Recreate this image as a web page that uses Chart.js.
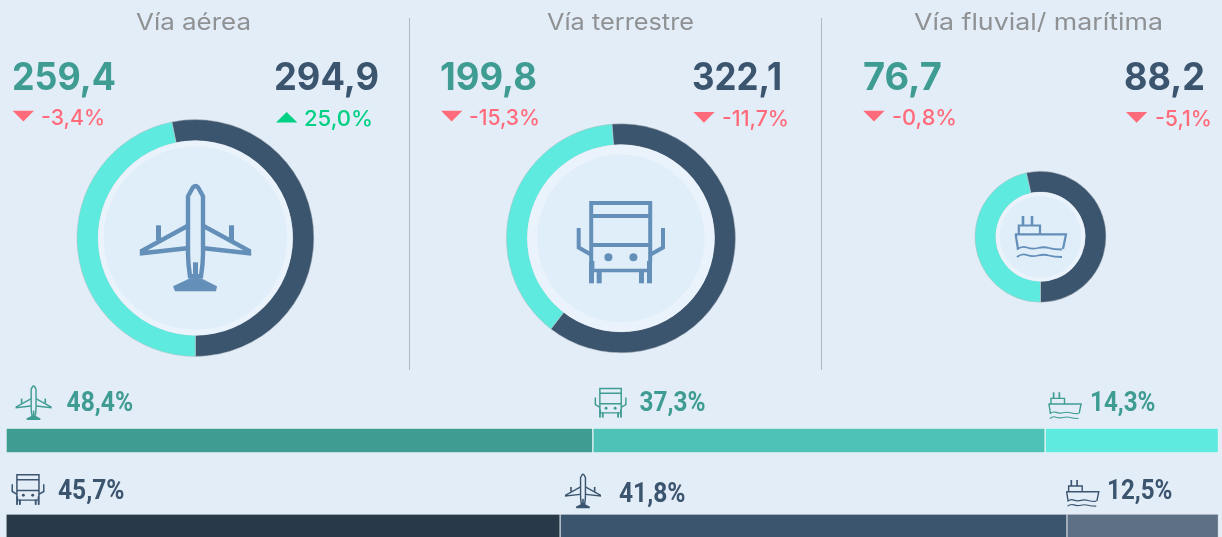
<!DOCTYPE html>
<html lang="es"><head><meta charset="utf-8">
<script src="https://cdn.jsdelivr.net/npm/chart.js@4"></script>
<style>
html,body{margin:0;padding:0;width:1222px;height:537px;overflow:hidden;background:#e3edf8}
canvas{position:absolute;display:block}
svg#ov{position:absolute;left:0;top:0;pointer-events:none}
.n{font-family:Inter,sans-serif;font-weight:650;font-size:38px}
.t{font-family:Inter,sans-serif;font-weight:400;font-size:23px;fill:#8f9193}
.c{font-family:Inter,sans-serif;font-weight:550;font-size:21.5px}
.p{font-family:Roboto,sans-serif;font-weight:700;font-size:28.5px}
</style></head><body>
<svg width="0" height="0" style="position:absolute"><defs>
<symbol id="plane" viewBox="0 0 111 108" overflow="visible">
 <g fill="none" stroke="currentColor" stroke-width="4.4">
  <path d="M48 13L53 4Q55.5 1.5 58 4L63 13V70Q63 80 61 93H50Q48 80 48 70Z"/>
  <path stroke-width="4.4" d="M47 43L2 67.5V70L47 65M64 43L109 67.5V70L64 65"/>
 </g>
 <g fill="currentColor">
  <rect x="16" y="42" width="5" height="15"/><rect x="89" y="42" width="5" height="15"/>
  <rect x="53" y="79" width="5" height="17"/>
  <path d="M33 103L50 95H61L77 103L76 108H35Z"/>
 </g>
</symbol>
<symbol id="truck" viewBox="0 0 88.3 82.3" overflow="visible">
 <g fill="none" stroke="currentColor" stroke-width="4">
  <path d="M14.5 61V2H73.5V61"/><path d="M14.5 15H73.5M14.5 44H73.5"/>
  <path stroke-width="3.4" d="M16 60V69.5H72V60"/>
  <path d="M2 27V46.5L15 54M86.3 27V46.5L73 54"/>
 </g>
 <g fill="currentColor">
  <rect x="12.3" y="61" width="5" height="21.3"/><rect x="20" y="68" width="5" height="14.3"/>
  <rect x="62.3" y="68" width="5" height="14.3"/><rect x="70.3" y="61" width="5" height="21.3"/>
  <circle cx="31.7" cy="56.3" r="4"/><circle cx="56.7" cy="56.3" r="4"/>
 </g>
</symbol>
<symbol id="ship" viewBox="0 0 51 42.3" overflow="visible">
 <g fill="none" stroke="currentColor" stroke-width="2.2">
  <path d="M8 0V9.5M17 0V9.5" stroke-width="2.6"/>
  <path d="M3.8 18.3V9.5H25V18.3"/>
  <path d="M0 18.3H51L48 33M0.6 18.3L3 33"/>
  <path stroke-width="1.8" d="M2 33.5Q7 29.5 12 31.5T23 32T34 32T47 33.5M2 41Q7 37 12 39T23 39.5T34 39.5T47 41"/>
 </g>
</symbol>
</defs></svg>
<canvas id="d0"></canvas><canvas id="d1"></canvas><canvas id="d2"></canvas>
<canvas id="b0"></canvas><canvas id="b1"></canvas>
<svg id="ov" width="1222" height="537" xmlns="http://www.w3.org/2000/svg"></svg>
<script>
// ---- data ----
const categories = ['Vía aérea', 'Vía terrestre', 'Vía fluvial/ marítima'];
const seriesTeal = [259.4, 199.8, 76.7];
const seriesNavy = [294.9, 322.1, 88.2];
const changeTeal = [-3.4, -15.3, -0.8];
const changeNavy = [25.0, -11.7, -5.1];
const shareTeal = [48.4, 37.3, 14.3];      // aérea, terrestre, fluvial
const shareNavy = [45.7, 41.8, 12.5];      // terrestre, aérea, fluvial

// ---- layout and styling ----
const BG='#e3edf8', TEAL='#3f9c92', NAVY='#3c556f', AQUA='#5eeade', ICON='#648fb9', RED='#ff6b7a', GREEN='#00d084';
const fmt=(v,d=1)=>v.toFixed(d).replace('.',',');
const pct=v=>fmt(v)+'%';
const donuts=[
 {cx:195.4,cy:238,r:118.7,inner:97.4,disc:91.7,rot:-11.5,icon:'plane',ix:140,iy:183.3,iw:111,ih:108},
 {cx:620.9,cy:238.3,r:114.8,inner:93.7,disc:83.8,rot:-4.5,icon:'truck',ix:576.7,iy:201,iw:88.3,ih:82.3},
 {cx:1040.5,cy:236.7,r:65.8,inner:44.8,disc:40.8,rot:-12.5,icon:'ship',ix:1015,iy:216,iw:51,ih:42.3}
];
const discPlugin={id:'disc',afterDatasetsDraw(ch,a,o){
  const g=ch.ctx,m=ch.getDatasetMeta(0).data[0];
  g.save();g.beginPath();g.arc(m.x,m.y,o.inner,0,7);g.fillStyle='#eaf3fb';g.fill();
  g.beginPath();g.arc(m.x,m.y,o.disc,0,7);g.fillStyle='#dfeef9';g.fill();g.restore();
}};
donuts.forEach((d,i)=>{
  const s=Math.ceil(d.r)*2+6, L=Math.floor(d.cx-s/2), T=Math.floor(d.cy-s/2);
  const c=document.getElementById('d'+i);
  c.width=s;c.height=s;c.style.left=L+'px';c.style.top=T+'px';
  new Chart(c,{type:'doughnut',plugins:[discPlugin],
   data:{labels:['Navy','Teal'],datasets:[{data:[seriesNavy[i],seriesTeal[i]],backgroundColor:[NAVY,AQUA],borderColor:'#b9bec3',borderWidth:0.5}]},
   options:{responsive:false,animation:false,rotation:d.rot,cutout:(d.inner/d.r*100)+'%',
    layout:{padding:{left:d.cx-L-d.r,right:L+s-d.cx-d.r,top:d.cy-T-d.r,bottom:T+s-d.cy-d.r}},
    plugins:{legend:{display:false},tooltip:{enabled:false},disc:{inner:d.inner,disc:d.disc}}}});
});
const bars=[
 {id:'b0',top:428,h:25,vals:shareTeal,names:['Aérea','Terrestre','Fluvial'],cols:[TEAL,'#4fc2b8',AQUA],border:'#e9f5f6'},
 {id:'b1',top:514,h:25,vals:shareNavy,names:['Terrestre','Aérea','Fluvial'],cols:['#28394a',NAVY,'#5d7086'],border:'#c9d0d6'}
];
bars.forEach(b=>{
  const c=document.getElementById(b.id);c.width=1222;c.height=b.h;c.style.left='0';c.style.top=b.top+'px';
  new Chart(c,{type:'bar',
   data:{labels:[''],datasets:b.vals.map((v,i)=>({label:b.names[i],data:[v],backgroundColor:b.cols[i],borderColor:b.border,borderWidth:1,borderSkipped:false,barPercentage:1,categoryPercentage:1}))},
   options:{indexAxis:'y',responsive:false,animation:false,
    layout:{padding:{left:6,right:3.5,top:0,bottom:0}},
    scales:{x:{stacked:true,display:false,min:0,max:100},y:{stacked:true,display:false}},
    plugins:{legend:{display:false},tooltip:{enabled:false}}}});
});
// ---- overlay: dividers, text, icons ----
const ov=document.getElementById('ov'),NS='http://www.w3.org/2000/svg';
function el(tag,attrs,txt){const e=document.createElementNS(NS,tag);for(const k in attrs)e.setAttribute(k,attrs[k]);if(txt!=null)e.textContent=txt;ov.appendChild(e);return e;}
function text(cls,x,y,w,str,fill){const a={class:cls,x,y,textLength:w,lengthAdjust:'spacingAndGlyphs'};if(fill)a.fill=fill;return el('text',a,str);}
function icon(id,x,y,w,h,col){const u=el('use',{href:'#'+id,x,y,width:w,height:h,color:col});return u;}
function tri(x,y,up,col){el('path',{d:up?`M${x} ${y+10.5}L${x+21.3} ${y+10.5}L${x+10.65} ${y}Z`:`M${x} ${y}L${x+21.3} ${y}L${x+10.65} ${y+10.7}Z`,fill:col});}
[409.5,821.5].forEach(x=>el('line',{x1:x,x2:x,y1:18,y2:370,stroke:'#b3b8bd','stroke-width':1}));
const titleX=[[136,115],[547,147],[914,249]];
const numA=[[12,104],[440,97],[863,79]], numB=[[274,105],[692,90],[1124,81]];
const chA=[[41,64,12.7],[469,71,441],[892,65,863.3]], chB=[[304,69,276],[722,67,693.3],[1155,57,1126]];
categories.forEach((n,i)=>{
  text('t',titleX[i][0],30,titleX[i][1],n);
  text('n',numA[i][0],89.5,numA[i][1],fmt(seriesTeal[i]),TEAL);
  text('n',numB[i][0],89.5,numB[i][1],fmt(seriesNavy[i]),NAVY);
  const ca=changeTeal[i],cb=changeNavy[i];
  tri(chA[i][2],110.7,ca>0,ca>0?GREEN:RED);
  text('c',chA[i][0],125,chA[i][1],pct(ca),ca>0?GREEN:RED);
  tri(chB[i][2],112,cb>0,cb>0?GREEN:RED);
  text('c',chB[i][0],125.5,chB[i][1],pct(cb),cb>0?GREEN:RED);
  const d=donuts[i];icon(d.icon,d.ix,d.iy,d.iw,d.ih,ICON);
});
[[66.6,411,66.5,shareTeal[0]],[639.6,411,66,shareTeal[1]],[1090,411,65.5,shareTeal[2]]].forEach(a=>text('p',a[0],a[1],a[2],pct(a[3]),TEAL));
[[58,499,66.5,shareNavy[0]],[619,501.5,66.5,shareNavy[1]],[1107,499,65.5,shareNavy[2]]].forEach(a=>text('p',a[0],a[1],a[2],pct(a[3]),NAVY));
icon('plane',15.6,385,36,35,TEAL);icon('truck',594.6,387.7,32,30,TEAL);icon('ship',1048.3,392.3,33,27,TEAL);
icon('truck',11.5,474,33,31,NAVY);icon('plane',565,473.3,36,35,NAVY);icon('ship',1066,480,33,27,NAVY);
</script></body></html>
